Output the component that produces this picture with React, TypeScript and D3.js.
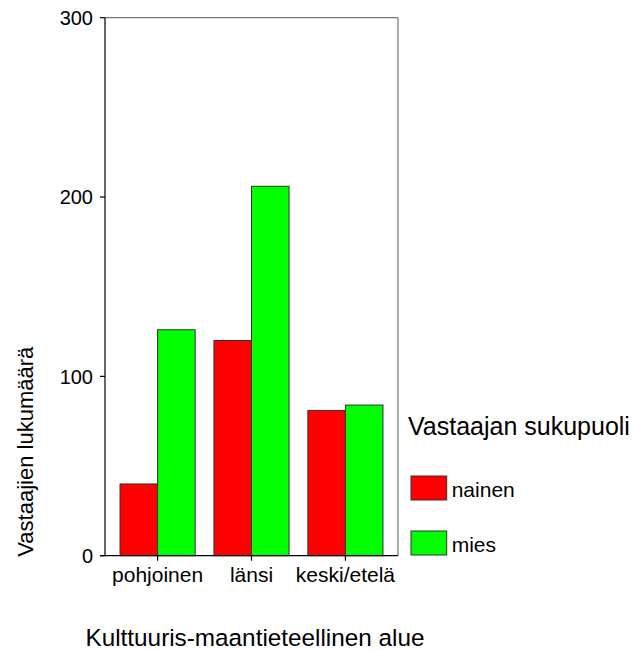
import React from 'react';
import * as d3 from 'd3';

const categories = ['pohjoinen', 'länsi', 'keski/etelä'];
const groups = ['nainen', 'mies'];
const nainen = [40, 120, 81];
const mies = [126, 206, 84];
const yTicks = [0, 100, 200, 300];

const colors: Record<string, string> = { nainen: '#ff0000', mies: '#00ff00' };
const font = 'Arial, "Liberation Sans", sans-serif';

export default function App() {
  const width = 632;
  const height = 650;
  const left = 105;
  const right = 398;
  const top = 17.7;
  const bottom = 555.7;

  const y = d3.scaleLinear().domain([0, 300]).range([bottom, top]);
  const x = d3.scaleBand<string>()
    .domain(categories)
    .range([left, right])
    .paddingInner(0.2)
    .paddingOuter(0.16);
  const xs = d3.scaleBand<string>().domain(groups).range([0, x.bandwidth()]);

  const series: Record<string, number[]> = { nainen, mies };

  return (
    <svg width={width} height={height} style={{ position: 'absolute', left: 0, top: 0, background: '#fff' }}>
      {/* frame */}
      <line x1={left} x2={right} y1={top} y2={top} stroke="#777" strokeWidth={1.2} />
      <line x1={right} x2={right} y1={top} y2={bottom} stroke="#777" strokeWidth={1.2} />

      {/* bars */}
      {categories.map((c, i) =>
        groups.map(g => (
          <rect
            key={c + g}
            x={(x(c) as number) + (xs(g) as number)}
            y={y(series[g][i])}
            width={xs.bandwidth()}
            height={bottom - y(series[g][i])}
            fill={colors[g]}
            stroke="#333"
            strokeWidth={1}
          />
        ))
      )}

      {/* y axis */}
      <line x1={left} x2={left} y1={top} y2={bottom} stroke="#000" strokeWidth={1.2} />
      {yTicks.map(t => (
        <g key={t}>
          <line x1={left - 5} x2={left} y1={y(t)} y2={y(t)} stroke="#000" strokeWidth={1.2} />
          <text x={left - 12} y={y(t)} dy="0.36em" textAnchor="end" fontFamily={font} fontSize={20}>
            {t}
          </text>
        </g>
      ))}

      {/* x axis */}
      <line x1={left - 5} x2={right} y1={bottom} y2={bottom} stroke="#000" strokeWidth={1.2} />
      {categories.map(c => {
        const cx = (x(c) as number) + x.bandwidth() / 2;
        return (
          <g key={c}>
            <line x1={cx} x2={cx} y1={bottom} y2={bottom + 5} stroke="#000" strokeWidth={1.2} />
            <text x={cx} y={581.7} textAnchor="middle" fontFamily={font} fontSize={21}>
              {c}
            </text>
          </g>
        );
      })}

      {/* axis titles */}
      <text x={255} y={646} textAnchor="middle" fontFamily={font} fontSize={24.3}>
        Kulttuuris-maantieteellinen alue
      </text>
      <text
        transform={`translate(33, ${(top + bottom) / 2 + 165}) rotate(-90)`}
        textAnchor="middle"
        fontFamily={font}
        fontSize={22}
      >
        Vastaajien lukumäärä
      </text>

      {/* legend */}
      <text x={408} y={435} fontFamily={font} fontSize={25}>
        Vastaajan sukupuoli
      </text>
      {groups.map((g, i) => (
        <g key={g} transform={`translate(411, ${476 + i * 55})`}>
          <rect width={35.7} height={24} fill={colors[g]} stroke="#333" strokeWidth={1} />
          <text x={40.7} y={20.7} fontFamily={font} fontSize={21}>
            {g}
          </text>
        </g>
      ))}
    </svg>
  );
}
